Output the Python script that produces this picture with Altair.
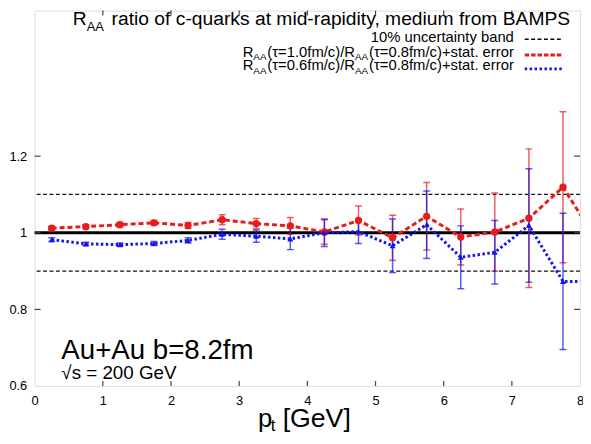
import altair as alt
import pandas as pd

# ---------------- data ----------------
pt = [0.25, 0.75, 1.25, 1.75, 2.25, 2.75, 3.25, 3.75, 4.25, 4.75,
      5.25, 5.75, 6.25, 6.75, 7.25, 7.75, 8.25]
ratio_10 = [1.012, 1.016, 1.021, 1.026, 1.019, 1.034, 1.024, 1.018, 1.002, 1.032,
            0.987, 1.043, 0.989, 1.002, 1.038, 1.119, 0.979]
err_10 = [0.005, 0.005, 0.006, 0.006, 0.008, 0.013, 0.013, 0.022, 0.032, 0.038,
          0.059, 0.088, 0.073, 0.102, 0.181, 0.197, 0.200]
ratio_06 = [0.982, 0.971, 0.969, 0.972, 0.980, 0.996, 0.991, 0.984, 1.000, 1.003,
            0.966, 1.021, 0.936, 0.949, 1.019, 0.873, 0.873]
err_06 = [0.005, 0.004, 0.004, 0.005, 0.007, 0.013, 0.016, 0.028, 0.036, 0.031,
          0.070, 0.088, 0.082, 0.083, 0.148, 0.178, 0.180]
band_levels = [0.9, 1.1]
x_ticks = [0, 1, 2, 3, 4, 5, 6, 7, 8]
x_inner_ticks = [1, 2, 3, 4, 5, 6, 7]
y_ticks = [0.6, 0.8, 1.0, 1.2]
y_inner_ticks = [0.8, 1.0, 1.2]

# ---------------- style ----------------
FONT = "Liberation Sans"
RED = "#e81c1c"
BLUE = "#1414f0"
W, H = 552, 380

CW = {" ": 278, "(": 333, ")": 333, "τ": 440, "=": 584, ".": 278, "f": 278, "m": 833,
      "/": 278, "c": 500, "+": 584, "s": 500, "t": 278, "a": 556, "e": 556, "r": 333,
      "o": 556, "R": 722, "A": 667, "%": 889, "u": 556, "n": 556, "i": 222, "y": 500,
      "b": 556, "d": 556, "p": 556, "q": 556, "k": 500, "-": 333, ",": 278, "B": 667,
      "M": 833, "P": 667, "S": 667, "G": 778, "V": 667, "[": 278, "]": 278, "l": 222}


def tw(s, size):
    return sum(CW.get(c, 556) for c in s) / 1000.0 * size


def txt(text, x, y, size, align="left", color="black"):
    return alt.Chart(pd.DataFrame({"t": [text]})).mark_text(
        align=align, baseline="alphabetic", font=FONT, fontSize=size, color=color
    ).encode(x=alt.value(x), y=alt.value(y), text="t:N")


def rich(segments, x_right, y):
    """segments: (text, size, dy, gap_before); chained right-aligned from x_right"""
    out = []
    x = x_right
    for t, s, dy, gap in reversed(segments):
        out.append(txt(t, x, y + dy, s, align="right"))
        x -= tw(t, s) + gap
    return out


def sample(x1, x2, y, color, dash, width):
    return alt.Chart(pd.DataFrame({"a": [0]})).mark_rule(
        color=color, strokeDash=dash, strokeWidth=width
    ).encode(x=alt.value(x1), x2=alt.value(x2), y=alt.value(y))


xs = alt.Scale(domain=[0, 8], nice=False, zero=False)
ys = alt.Scale(domain=[0.6, 1.58], nice=False, zero=False)
x_axis = alt.Axis(values=x_ticks, format="d", labelFont=FONT, labelFontSize=13,
                  labelColor="black", labelPadding=9, labelFlush=False, labelBound=False,
                  labelOverlap=False, ticks=False, domain=False, grid=False, title=None)
y_axis = alt.Axis(values=y_ticks, format="~g", labelFont=FONT, labelFontSize=13,
                  labelColor="black", labelPadding=8, labelFlush=False, ticks=False,
                  domain=False, grid=False, title=None)


def X(f):
    return alt.X(f, scale=xs, axis=x_axis, title=None)


def Y(f):
    return alt.Y(f, scale=ys, axis=y_axis, title=None)


df10 = pd.DataFrame({"pt": pt, "v": ratio_10,
                     "lo": [v - e for v, e in zip(ratio_10, err_10)],
                     "hi": [v + e for v, e in zip(ratio_10, err_10)]})
df06 = pd.DataFrame({"pt": pt, "v": ratio_06,
                     "lo": [v - e for v, e in zip(ratio_06, err_06)],
                     "hi": [v + e for v, e in zip(ratio_06, err_06)]})

band = alt.Chart(pd.DataFrame({"y": band_levels})).mark_rule(
    color="#111", strokeDash=[4, 2.5], strokeWidth=1.3).encode(y=Y("y:Q"))
one = alt.Chart(pd.DataFrame({"y": [1.0]})).mark_rule(
    color="black", strokeWidth=3).encode(y=Y("y:Q"))


def errbars(df, color):
    base = alt.Chart(df)
    bar = base.mark_rule(color=color, opacity=0.7, strokeWidth=1.5, clip=True).encode(
        x=X("pt:Q"), y=Y("lo:Q"), y2=alt.Y2("hi"))
    lo = base.mark_tick(color=color, opacity=0.7, orient="horizontal", size=7,
                        thickness=1.5, clip=True).encode(x=X("pt:Q"), y=Y("lo:Q"))
    hi = base.mark_tick(color=color, opacity=0.7, orient="horizontal", size=7,
                        thickness=1.5, clip=True).encode(x=X("pt:Q"), y=Y("hi:Q"))
    return [bar, lo, hi]


line10 = alt.Chart(df10).mark_line(color=RED, strokeDash=[5, 3], strokeWidth=3,
                                   clip=True).encode(x=X("pt:Q"), y=Y("v:Q"))
pts10 = alt.Chart(df10).mark_point(shape="circle", filled=True, color=RED, size=55,
                                   opacity=1, clip=True).encode(x=X("pt:Q"), y=Y("v:Q"))
line06 = alt.Chart(df06).mark_line(color=BLUE, strokeDash=[2.5, 2.5], strokeWidth=3,
                                   clip=True).encode(x=X("pt:Q"), y=Y("v:Q"))
pts06 = alt.Chart(df06).mark_point(shape="triangle-up", filled=True, color=BLUE, size=36,
                                   opacity=1, clip=True).encode(x=X("pt:Q"), y=Y("v:Q"))

# inward ticks on all four sides
xt = pd.DataFrame({"v": x_inner_ticks})
yt = pd.DataFrame({"v": y_inner_ticks})
tk_b = alt.Chart(xt).mark_rule(color="#444", strokeWidth=1.2).encode(
    x=X("v:Q"), y=alt.value(H), y2=alt.value(H - 5))
tk_t = alt.Chart(xt).mark_rule(color="#444", strokeWidth=1.2).encode(
    x=X("v:Q"), y=alt.value(0), y2=alt.value(5))
tk_l = alt.Chart(yt).mark_rule(color="#444", strokeWidth=1.2).encode(
    y=Y("v:Q"), x=alt.value(0), x2=alt.value(6))
tk_r = alt.Chart(yt).mark_rule(color="#444", strokeWidth=1.2).encode(
    y=Y("v:Q"), x=alt.value(W), x2=alt.value(W - 6))

# texts (plot-area pixel coordinates)
title = rich([("R", 19.5, 0, 0), ("AA", 13, 6, 0),
              ("ratio of c-quarks at mid-rapidity, medium from BAMPS", 19.5, 0, 6)], 542, 15)
leg1 = [txt("10% uncertainty band", 485, 32, 15, align="right")]
leg2 = rich([("R", 15, 0, 0), ("AA", 10, 4, 0), ("(τ=1.0fm/c)/R", 15, 0, 0), ("AA", 10, 4, 0),
             ("(τ=0.8fm/c)+stat. error", 15, 0, 0)], 485, 46.5)
leg3 = rich([("R", 15, 0, 0), ("AA", 10, 4, 0), ("(τ=0.6fm/c)/R", 15, 0, 0), ("AA", 10, 4, 0),
             ("(τ=0.8fm/c)+stat. error", 15, 0, 0)], 485, 60)
samples = [sample(496, 535, 29, "black", [4, 2.5], 1.5),
           sample(496, 535, 45, RED, [4.5, 2], 3),
           sample(496, 535, 59, BLUE, [2.5, 2.5], 3)]
annot = [txt("Au+Au b=8.2fm", 27, 353, 28), txt("√s = 200 GeV", 27, 373, 19)]
xtitle = [txt("p", 226, 421, 26), txt("t", 239, 426, 17),
          txt("[GeV]", 251, 421, 27)]

layers = [band, one] + errbars(df10, RED) + errbars(df06, BLUE) + [
    line10, pts10, line06, pts06, tk_b, tk_t, tk_l, tk_r] + title + leg1 + leg2 + leg3 \
    + samples + annot + xtitle

chart = alt.layer(*layers).properties(
    width=W, height=H,
    padding={"left": 27, "top": 0, "right": 3, "bottom": 48},
    autosize=alt.AutoSizeParams(type="none"),
).configure_view(stroke="#222", strokeWidth=2).configure(background="white")

chart.save("out.html", embed_options={"renderer": "svg", "actions": False})
